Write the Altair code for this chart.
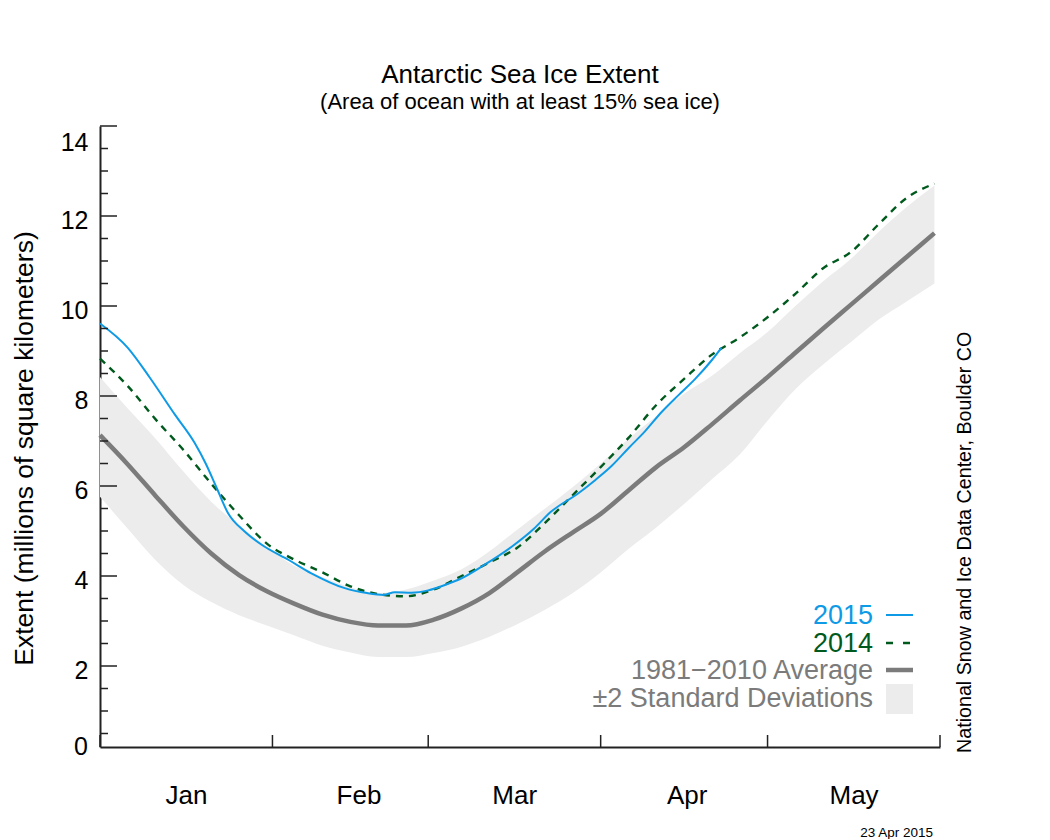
import altair as alt
import pandas as pd

# ---------------- data ----------------
DAYS = [0, 5, 10, 15, 20, 25, 30, 35, 40, 45, 50, 55, 60, 65, 70, 75, 80, 85, 90, 95,
        100, 105, 110, 115, 120, 125, 130, 135, 140, 145, 150]
AVG = [7.13, 6.48, 5.78, 5.10, 4.50, 4.02, 3.66, 3.38, 3.14, 2.98, 2.90, 2.90, 3.03, 3.28,
       3.62, 4.08, 4.55, 4.97, 5.38, 5.90, 6.42, 6.86, 7.37, 7.90, 8.42, 8.96, 9.50, 10.03,
       10.56, 11.09, 11.62]
SD_HI = [8.42, 7.72, 7.05, 6.32, 5.65, 5.12, 4.65, 4.22, 3.98, 3.75, 3.62, 3.70, 3.90, 4.15,
         4.55, 5.03, 5.50, 5.98, 6.50, 7.05, 7.55, 8.05, 8.45, 8.95, 9.42, 10.00, 10.55, 11.05,
         11.65, 12.20, 12.68]
SD_LO = [5.76, 5.05, 4.35, 3.80, 3.42, 3.13, 2.90, 2.68, 2.45, 2.30, 2.20, 2.20, 2.29, 2.43,
         2.65, 2.93, 3.25, 3.62, 4.08, 4.60, 5.08, 5.60, 6.15, 6.70, 7.45, 8.15, 8.70, 9.20,
         9.70, 10.10, 10.50]
Y2014 = [8.83, 8.22, 7.48, 6.80, 6.05, 5.35, 4.72, 4.36, 4.08, 3.77, 3.60, 3.55, 3.70, 4.00,
         4.30, 4.63, 5.18, 5.80, 6.42, 7.07, 7.80, 8.38, 8.92, 9.30, 9.75, 10.27, 10.84, 11.20,
         11.82, 12.40, 12.72]
DAYS_2015 = [0, 5, 9, 13.5, 17, 19, 21, 23, 26, 29, 34, 38, 44, 48, 51, 53, 56, 59, 62, 65,
             69, 74, 78, 81, 86, 89, 92, 95, 98, 101, 104, 107, 110, 111.7]
Y2015 = [9.61, 9.07, 8.40, 7.58, 6.96, 6.50, 5.95, 5.40, 4.99, 4.70, 4.35, 4.06, 3.73, 3.62,
         3.58, 3.64, 3.63, 3.68, 3.80, 3.95, 4.24, 4.65, 5.05, 5.42, 5.84, 6.13, 6.45, 6.84,
         7.22, 7.65, 8.02, 8.38, 8.80, 9.07]

MONTH_STARTS = [0, 31, 59, 90, 120, 151]
MONTH_NAMES = ["Jan", "Feb", "Mar", "Apr", "May", ""]
Y_MAJOR = [2, 4, 6, 8, 10, 12, 14]
Y_MINOR = [0.5, 1, 1.5, 2.5, 3, 3.5, 4.5, 5, 5.5, 6.5, 7, 7.5, 8.5, 9, 9.5, 10.5, 11, 11.5,
           12.5, 13, 13.5]

TITLE = "Antarctic Sea Ice Extent"
SUBTITLE = "(Area of ocean with at least 15% sea ice)"
Y_TITLE = "Extent (millions of square kilometers)"
CREDIT = "National Snow and Ice Data Center, Boulder CO"
DATE = "23 Apr 2015"
LEG_LABELS = ["2015", "2014", "1981\u22122010 Average", "\u00b12 Standard Deviations"]

# ---------------- style ----------------
W, H = 840, 621
FONT = "Liberation Sans, Arial, Helvetica, sans-serif"
BLUE = "#0f9ae6"
GREEN = "#005a1e"
GRAY = "#7b7b7b"
BAND = "#ececec"
AXC = "#222222"

main = pd.DataFrame({"day": DAYS, "avg": AVG, "hi": SD_HI, "lo": SD_LO, "y2014": Y2014})
d15 = pd.DataFrame({"day": DAYS_2015, "y2015": Y2015})

xs = alt.Scale(domain=[0, 151], nice=False, zero=False)
ys = alt.Scale(domain=[0.2, 14], nice=False, zero=False)

label_expr = " : ".join(
    f"datum.value == {d} ? '{n}'" for d, n in zip(MONTH_STARTS, MONTH_NAMES)
) + " : ''"

xaxis = alt.Axis(values=MONTH_STARTS, ticks=False, grid=False, domain=True,
                 domainColor=AXC, domainWidth=2, labelExpr=label_expr,
                 labelOffset=86, labelPadding=35, labelFontSize=26, labelFont=FONT,
                 labelColor="black", labelFlush=False, labelOverlap=False,
                 labelBaseline="top", title=None)
yaxis = alt.Axis(values=Y_MAJOR, ticks=False, grid=False, domain=True,
                 domainColor=AXC, domainWidth=2, labelFontSize=25, labelFont=FONT,
                 labelColor="black", labelPadding=12, labelOffset=4, labelFlush=True,
                 labelOverlap=False, title=Y_TITLE, titleFontSize=26.5, titleFont=FONT,
                 titleFontWeight="normal", titleColor="black", titlePadding=22,
                 titleY=322)

X = lambda f: alt.X(f"{f}:Q", scale=xs, axis=xaxis)
Y = lambda f: alt.Y(f"{f}:Q", scale=ys, axis=yaxis)

band = alt.Chart(main).mark_area(color=BAND, interpolate="monotone").encode(
    x=X("day"), y=Y("lo"), y2="hi:Q")
avg = alt.Chart(main).mark_line(color=GRAY, strokeWidth=4.5, interpolate="monotone").encode(
    x=X("day"), y=Y("avg"))
l2014 = alt.Chart(main).mark_line(color=GREEN, strokeWidth=2.4, strokeDash=[7, 6],
                                  interpolate="monotone").encode(x=X("day"), y=Y("y2014"))
l2015 = alt.Chart(d15).mark_line(color=BLUE, strokeWidth=2, interpolate="monotone").encode(
    x=X("day"), y=Y("y2015"))

ymaj = alt.Chart(pd.DataFrame({"v": Y_MAJOR})).mark_rule(color=AXC, strokeWidth=1.5).encode(
    y=Y("v"), x=alt.value(0), x2=alt.value(17))
ymin = alt.Chart(pd.DataFrame({"v": Y_MINOR})).mark_rule(color=AXC, strokeWidth=1.5).encode(
    y=Y("v"), x=alt.value(0), x2=alt.value(8))
xtk = alt.Chart(pd.DataFrame({"d": MONTH_STARTS})).mark_rule(color=AXC, strokeWidth=1.5).encode(
    x=X("d"), y=alt.value(H), y2=alt.value(H - 12))


def text(t, x, y, **kw):
    base = dict(font=FONT, fontSize=25, color="black")
    base.update(kw)
    return alt.Chart(pd.DataFrame({"t": [t]})).mark_text(**base).encode(
        text="t:N", x=alt.value(x), y=alt.value(y))


def sym_rule(x1, x2, y, **kw):
    return alt.Chart(pd.DataFrame({"k": [0]})).mark_rule(**kw).encode(
        x=alt.value(x1), x2=alt.value(x2), y=alt.value(y))


texts = [
    text(TITLE, W / 2, -43, fontSize=26, align="center", baseline="alphabetic"),
    text(SUBTITLE, W / 2, -17, fontSize=22, align="center", baseline="alphabetic"),
    text("0", -12, H, align="right", baseline="middle"),
    text(CREDIT, 871, 627, fontSize=19.7, angle=270, align="left", baseline="alphabetic"),
    text(DATE, 833, 711, fontSize=13.5, align="right", baseline="alphabetic"),
    text(LEG_LABELS[0], 773, 498, fontSize=27, color=BLUE, align="right", baseline="alphabetic"),
    text(LEG_LABELS[1], 773, 525.5, fontSize=27, color=GREEN, align="right", baseline="alphabetic"),
    text(LEG_LABELS[2], 773, 553, fontSize=27, color=GRAY, align="right", baseline="alphabetic"),
    text(LEG_LABELS[3], 773, 580.5, fontSize=27, color=GRAY, align="right", baseline="alphabetic"),
]

legend_syms = [
    sym_rule(786, 813, 489, color=BLUE, strokeWidth=2),
    sym_rule(786, 813, 517, color=GREEN, strokeWidth=2.4, strokeDash=[7, 10]),
    sym_rule(786, 813, 544, color=GRAY, strokeWidth=4.5),
    alt.Chart(pd.DataFrame({"k": [0]})).mark_rect(color=BAND).encode(
        x=alt.value(786), x2=alt.value(813), y=alt.value(558), y2=alt.value(588)),
]

chart = alt.layer(band, avg, l2014, l2015, ymaj, ymin, xtk, *texts, *legend_syms).properties(
    width=W, height=H,
    background="white",
    autosize=alt.AutoSizeParams(type="none"),
    padding={"left": 92, "top": 118, "right": 60, "bottom": 92},
).configure_view(stroke=None)

chart.save("out.html", embed_options={"renderer": "svg", "actions": False})
